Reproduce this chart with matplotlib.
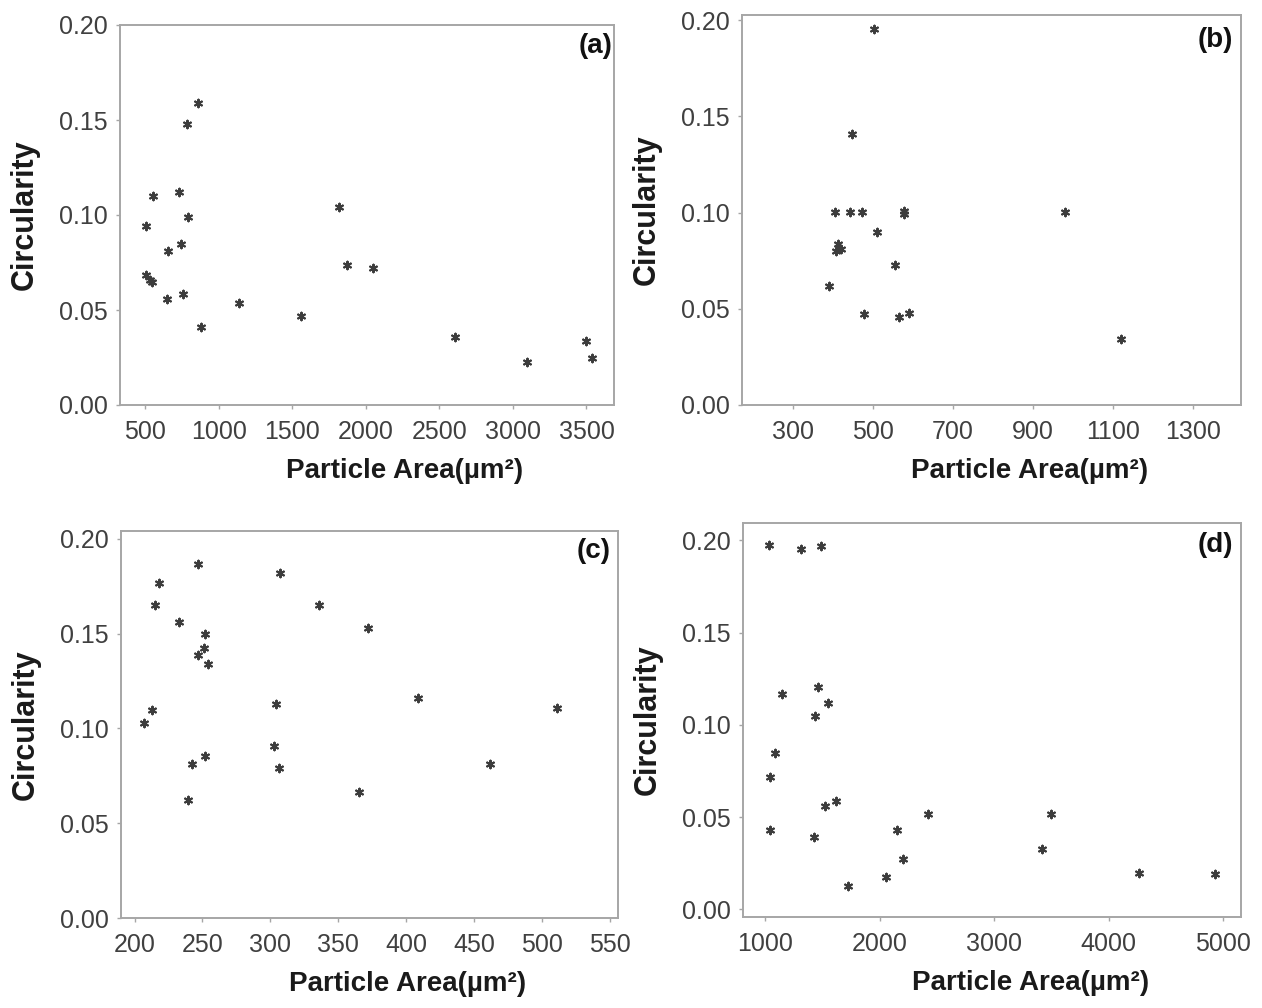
import matplotlib
matplotlib.use("Agg")
import matplotlib.pyplot as plt

# ---- data: particle area (um^2) vs circularity, four samples ----
area_a = [857, 782, 550, 728, 789, 509, 746, 652, 505, 534, 546, 646, 757, 880,
          1137, 1558, 1820, 1870, 2046, 2605, 3099, 3500, 3539]
circ_a = [0.159, 0.148, 0.110, 0.112, 0.099, 0.094, 0.0845, 0.081, 0.0685, 0.066,
          0.0645, 0.056, 0.0585, 0.041, 0.0535, 0.047, 0.104, 0.0735, 0.072, 0.036,
          0.0225, 0.0335, 0.025]

area_b = [503, 448, 406, 442, 473, 577, 577, 510, 412, 421, 408, 554, 389, 478,
          566, 589, 981, 1121]
circ_b = [0.1955, 0.141, 0.1005, 0.1005, 0.1005, 0.101, 0.099, 0.090, 0.0835,
          0.081, 0.080, 0.0725, 0.062, 0.0475, 0.0455, 0.048, 0.1005, 0.0345]

area_c = [247, 307, 218, 215, 336, 233, 372, 252, 251, 247, 254, 213, 207, 304,
          409, 511, 303, 252, 242, 306, 462, 365, 239]
circ_c = [0.187, 0.182, 0.177, 0.165, 0.165, 0.156, 0.153, 0.150, 0.1425, 0.139,
          0.134, 0.110, 0.103, 0.113, 0.116, 0.111, 0.091, 0.0855, 0.0815, 0.079,
          0.0815, 0.0665, 0.0625]

area_d = [1032, 1315, 1485, 1461, 1149, 1543, 1432, 1082, 1044, 1616, 1520, 1044,
          1423, 2148, 2417, 3492, 3419, 2206, 2051, 1718, 4266, 4929]
circ_d = [0.1977, 0.1955, 0.197, 0.1205, 0.117, 0.112, 0.105, 0.085, 0.072, 0.059,
          0.056, 0.043, 0.0395, 0.043, 0.0515, 0.0515, 0.033, 0.0275, 0.0175, 0.0125,
          0.0195, 0.019]

panel_tags = ["(a)", "(b)", "(c)", "(d)"]
x_ticks = [[500, 1000, 1500, 2000, 2500, 3000, 3500],
           [300, 500, 700, 900, 1100, 1300],
           [200, 250, 300, 350, 400, 450, 500, 550],
           [1000, 2000, 3000, 4000, 5000]]
y_ticks = [0.00, 0.05, 0.10, 0.15, 0.20]
x_limits = [(329, 3687), (172, 1421), (190, 556), (804, 5157)]
y_limits = [(0.0, 0.2), (0.0, 0.2026), (0.0, 0.2042), (-0.0041, 0.2094)]

plt.rcParams["font.family"] = ["Liberation Sans", "DejaVu Sans"]

W, H = 1262, 1008
fig = plt.figure(figsize=(W / 100, H / 100), dpi=100)

# axes boxes in pixels: left, right, top, bottom
boxes = [(120, 614, 25, 405), (742, 1241, 15, 405),
         (121, 618, 531, 918), (743, 1241, 523, 917)]
# panel tag offsets from the upper-right corner, pixels (right, down)
tag_offsets = [(2, 8), (8, 12), (7, 7), (8, 9)]

datasets = [(area_a, circ_a), (area_b, circ_b), (area_c, circ_c), (area_d, circ_d)]

frame_col = "#a6a6a6"
tick_col = "#404040"

for (l, r, t, b), (xs, ys), tag, (ox, oy), xt, xl, yl in zip(
        boxes, datasets, panel_tags, tag_offsets, x_ticks, x_limits, y_limits):
    w_px, h_px = r - l, b - t
    ax = fig.add_axes([l / W, 1 - b / H, w_px / W, h_px / H])
    ax.scatter(xs, ys, marker=(6, 2, 0), s=30, color="#3c3c3c", linewidths=1.5)
    ax.set_xlim(*xl)
    ax.set_ylim(*yl)
    ax.set_xticks(xt)
    ax.set_xticklabels([str(v) for v in xt])
    ax.set_yticks(y_ticks)
    ax.set_yticklabels([f"{v:.2f}" for v in y_ticks])
    for sp in ax.spines.values():
        sp.set_color(frame_col)
        sp.set_linewidth(1.4)
    ax.tick_params(axis="both", direction="out", length=3, width=1.0,
                   color=frame_col, labelcolor=tick_col, labelsize=18)
    ax.tick_params(axis="x", pad=8)
    ax.tick_params(axis="y", pad=6)
    ax.set_xlabel("Particle Area(µm²)", fontsize=20, fontweight="bold",
                  color="#1a1a1a")
    ax.xaxis.set_label_coords(0.577, -53 / h_px)
    ax.set_ylabel("Circularity", fontsize=22, fontweight="bold",
                  color="#1a1a1a")
    ax.yaxis.set_label_coords(-80 / w_px, 0.50)
    ax.annotate(tag, xy=(1, 1), xycoords="axes fraction",
                xytext=(-ox * 0.72, -oy * 0.72), textcoords="offset points",
                ha="right", va="top", fontsize=20, fontweight="bold",
                color="#111111")

fig.savefig("out.png", dpi=100)
